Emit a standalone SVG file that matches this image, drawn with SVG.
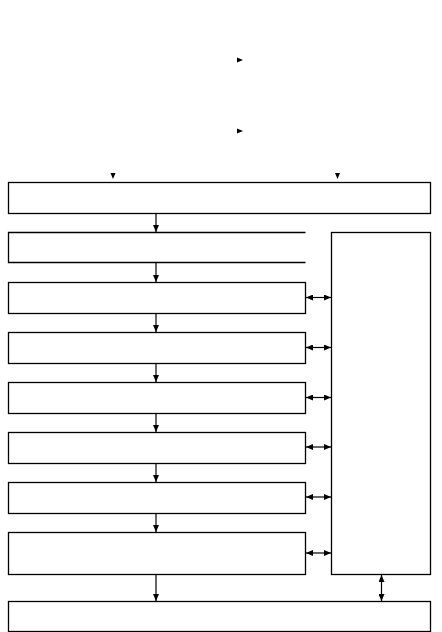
<svg xmlns="http://www.w3.org/2000/svg" width="442" height="632" viewBox="0 0 442 632">
<style>
.box{fill:#fff;stroke:#000;stroke-width:1.3}
.open{fill:none;stroke:#000;stroke-width:1.3}
.conn{fill:none;stroke:#000;stroke-width:1.2}
.head{fill:#000}
</style>
<defs>
<marker id="ah" viewBox="0 0 7 6" refX="7" refY="3" markerWidth="7" markerHeight="6" markerUnits="userSpaceOnUse" orient="auto-start-reverse">
<path d="M0,0 L7,3 L0,6 Z" fill="#000"/>
</marker>
</defs>
<rect width="442" height="632" fill="#fff"/>
<g id="n1"><rect class="box" x="8.5" y="182.5" width="422" height="31"/></g>
<g id="n2"><path class="open" d="M305.5,232.5 H8.5 V262.5 H305.5"/></g>
<g id="n3"><rect class="box" x="8.5" y="282.5" width="297" height="31"/></g>
<g id="n4"><rect class="box" x="8.5" y="332.5" width="297" height="31"/></g>
<g id="n5"><rect class="box" x="8.5" y="382.5" width="297" height="31"/></g>
<g id="n6"><rect class="box" x="8.5" y="432.5" width="297" height="31"/></g>
<g id="n7"><rect class="box" x="8.5" y="482.5" width="297" height="31"/></g>
<g id="n8"><rect class="box" x="8.5" y="532.5" width="297" height="42"/></g>
<g id="n9"><rect class="box" x="331.5" y="232.5" width="99" height="342"/></g>
<g id="n10"><rect class="box" x="8.5" y="601.5" width="422" height="30"/></g>
<g id="connectors">
<path class="head" d="M237,57.5 L243,60 L237,62.5 Z"/>
<path class="head" d="M237,128.5 L243,131 L237,133.5 Z"/>
<path class="head" d="M110.5,173 L115.5,173 L113,179 Z"/>
<path class="head" d="M335,173 L340,173 L337.5,179 Z"/>
<line class="conn" x1="156" y1="213.5" x2="156" y2="232" marker-end="url(#ah)"/>
<line class="conn" x1="156" y1="262.5" x2="156" y2="282" marker-end="url(#ah)"/>
<line class="conn" x1="156" y1="313.5" x2="156" y2="332" marker-end="url(#ah)"/>
<line class="conn" x1="156" y1="363.5" x2="156" y2="382" marker-end="url(#ah)"/>
<line class="conn" x1="156" y1="413.5" x2="156" y2="432" marker-end="url(#ah)"/>
<line class="conn" x1="156" y1="463.5" x2="156" y2="482" marker-end="url(#ah)"/>
<line class="conn" x1="156" y1="513.5" x2="156" y2="532" marker-end="url(#ah)"/>
<line class="conn" x1="156" y1="574.5" x2="156" y2="601" marker-end="url(#ah)"/>
<line class="conn" x1="306" y1="297.5" x2="331" y2="297.5" marker-start="url(#ah)" marker-end="url(#ah)"/>
<line class="conn" x1="306" y1="347.5" x2="331" y2="347.5" marker-start="url(#ah)" marker-end="url(#ah)"/>
<line class="conn" x1="306" y1="397.5" x2="331" y2="397.5" marker-start="url(#ah)" marker-end="url(#ah)"/>
<line class="conn" x1="306" y1="447" x2="331" y2="447" marker-start="url(#ah)" marker-end="url(#ah)"/>
<line class="conn" x1="306" y1="497" x2="331" y2="497" marker-start="url(#ah)" marker-end="url(#ah)"/>
<line class="conn" x1="306" y1="553" x2="331" y2="553" marker-start="url(#ah)" marker-end="url(#ah)"/>
<line class="conn" x1="381.5" y1="575" x2="381.5" y2="601" marker-start="url(#ah)" marker-end="url(#ah)"/>
</g>
</svg>
